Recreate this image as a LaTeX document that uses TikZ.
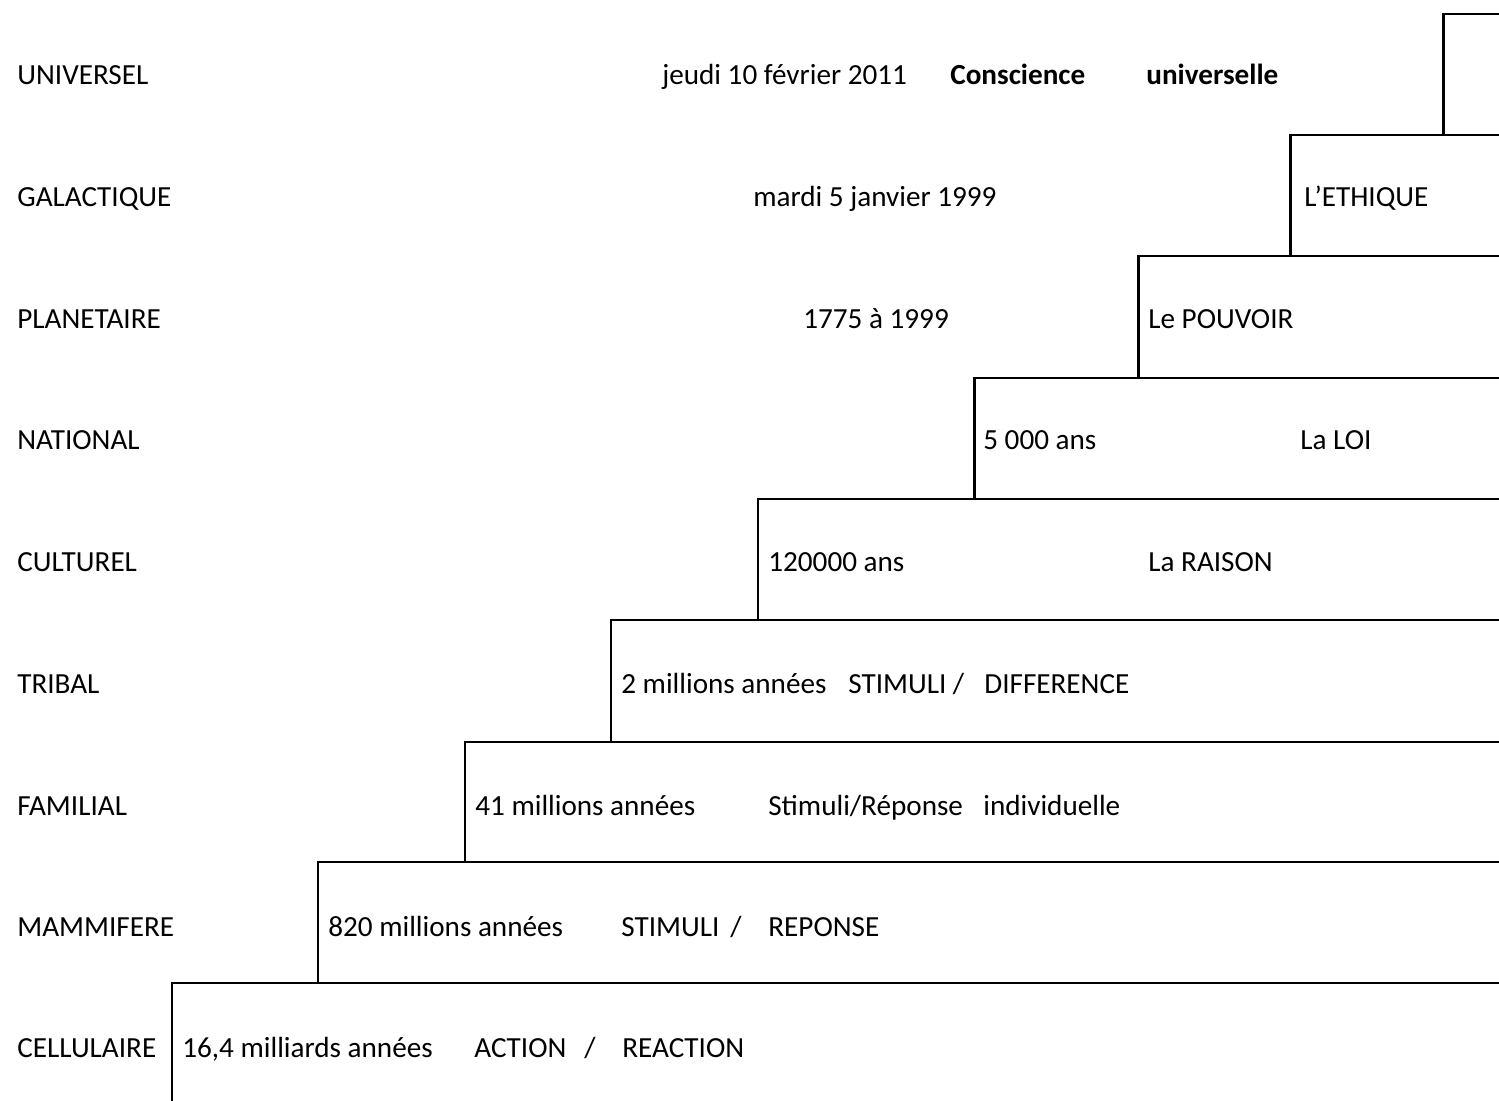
\documentclass[tikz,border=0pt]{standalone}
\usepackage{fontspec}
\setmainfont{Carlito}
\tikzset{
    x=0.02cm, y=-0.02cm, % one unit is one pixel of the page
    }

\begin{document}
\begin{tikzpicture}[
levelnode/.style={anchor=base west, inner sep=0pt, font=\fontsize{16.6}{19}\selectfont},
boldnode/.style={levelnode, font=\fontsize{16.6}{19}\selectfont\bfseries},
stair/.style={line width=1.7pt, line join=miter},
]
\useasboundingbox (0,0) rectangle (1499,1101);

% the steps
\draw[stair] (1499,14) -- (1443,14) -- (1443,135);
\draw[stair] (1499,135) -- (1290,135) -- (1290,256);
\draw[stair] (1499,256) -- (1138,256) -- (1138,378);
\draw[stair] (1499,378) -- (974,378) -- (974,499);
\draw[stair] (1499,499) -- (758,499) -- (758,620);
\draw[stair] (1499,620) -- (611,620) -- (611,742);
\draw[stair] (1499,742) -- (465,742) -- (465,862);
\draw[stair] (1499,862) -- (318,862) -- (318,983);
\draw[stair] (1499,983) -- (172,983) -- (172,1101);

% levels
\node[levelnode] (universel) at (17,85) {UNIVERSEL};
\node[levelnode] (galactique) at (17,207) {GALACTIQUE};
\node[levelnode] (planetaire) at (17,329) {PLANETAIRE};
\node[levelnode] (national) at (17,450) {NATIONAL};
\node[levelnode] (culturel) at (17,572) {CULTUREL};
\node[levelnode] (tribal) at (17,694) {TRIBAL};
\node[levelnode] (familial) at (17,815) {FAMILIAL};
\node[levelnode] (mammifere) at (17,936) {MAMMIFERE};
\node[levelnode] (cellulaire) at (17,1057) {CELLULAIRE};

% universel
\node[levelnode] (jeudi) at (662,85) {jeudi 10 février 2011};
\node[boldnode] (conscience) at (950,85) {Conscience};
\node[boldnode] (universelle) at (1146,85) {universelle};

% galactique
\node[levelnode] (mardi) at (753,207) {mardi 5 janvier 1999};
\node[levelnode] (ethique) at (1304,207) {L’ETHIQUE};

% planetaire
\node[levelnode] (annees1775) at (803,329) {1775 à 1999};
\node[levelnode] (pouvoir) at (1148,329) {Le POUVOIR};

% national
\node[levelnode] (ans5000) at (983,450) {5 000 ans};
\node[levelnode] (loi) at (1300,450) {La LOI};

% culturel
\node[levelnode] (ans120000) at (768,572) {120000 ans};
\node[levelnode] (raison) at (1148,572) {La RAISON};

% tribal
\node[levelnode] (millions2) at (621,694) {2 millions années};
\node[levelnode] (stimulitribal) at (848,694) {STIMULI /};
\node[levelnode] (difference) at (984,694) {DIFFERENCE};

% familial
\node[levelnode] (millions41) at (475,815) {41 millions années};
\node[levelnode] (reponseind) at (768,815) {Stimuli/Réponse};
\node[levelnode] (individuelle) at (983,815) {individuelle};

% mammifere
\node[levelnode] (millions820) at (328,936) {820 millions années};
\node[levelnode] (stimuli) at (621,936) {STIMULI};
\node[levelnode] (slashmam) at (730,936) {/};
\node[levelnode] (reponse) at (768,936) {REPONSE};

% cellulaire
\node[levelnode] (milliards) at (182,1057) {16,4 milliards années};
\node[levelnode] (action) at (474,1057) {ACTION};
\node[levelnode] (slashcel) at (584,1057) {/};
\node[levelnode] (reaction) at (622,1057) {REACTION};

\end{tikzpicture}
\end{document}
